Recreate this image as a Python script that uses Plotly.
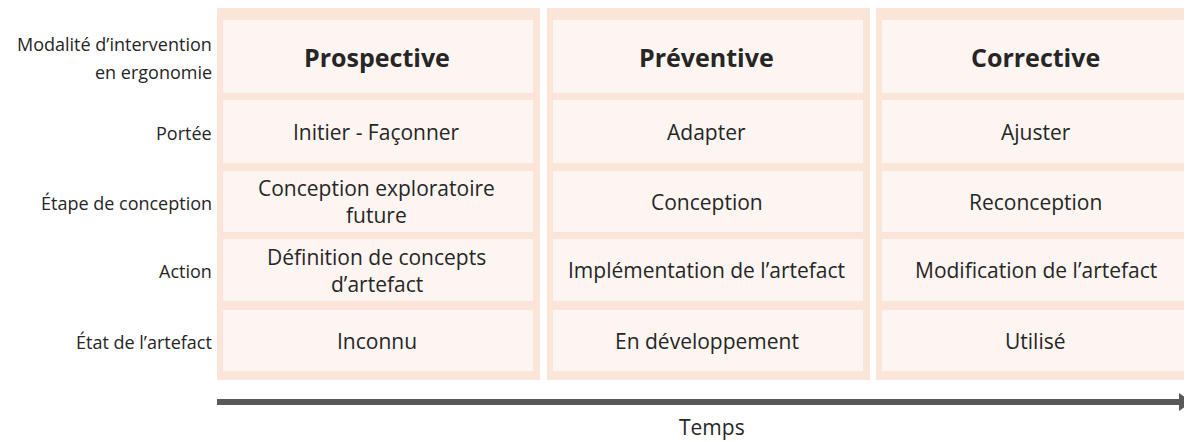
import plotly.graph_objects as go

# ---- data ----
row_labels = [
    "Modalité d’intervention<br>en ergonomie",
    "Portée",
    "Étape de conception",
    "Action",
    "État de l’artefact",
]
column_titles = ["Prospective", "Préventive", "Corrective"]
portee = ["Initier - Façonner", "Adapter", "Ajuster"]
etape = ["Conception exploratoire<br>future", "Conception", "Reconception"]
action = ["Définition de concepts<br>d’artefact", "Implémentation de l’artefact", "Modification de l’artefact"]
etat = ["Inconnu", "En développement", "Utilisé"]
axis_label = "Temps"

# ---- layout geometry (reference pixels) ----
W, H = 1192, 442
OFF = 8  # page body margin compensation
col_left = [217, 547, 876]
col_width = 323
inner_pad_l, inner_pad_r = 6, 7
panel_top, panel_bottom = 7, 380
row_top = [20, 100, 171, 239, 310]
row_bot = [93, 163, 232, 301, 371]
label_right = 214
arrow_y = 402

outer_col = "#FBE4D8"
inner_col = "#FCF5F1"
text_col = "#262626"
FONT = "'Open Sans', Lato, sans-serif"

fig = go.Figure()
shapes = []
annotations = []

rows = [column_titles, portee, etape, action, etat]


def add_text(x, yc, text, size, anchor, spacing):
    lines = text.split("<br>")
    n = len(lines)
    for k, line in enumerate(lines):
        y = yc + (k - (n - 1) / 2) * spacing
        annotations.append(dict(x=x, y=y, xref="x", yref="y", text=line, showarrow=False,
                                font=dict(family=FONT, size=size, color=text_col),
                                xanchor=anchor, yanchor="middle"))


for ci in range(3):
    x0 = col_left[ci]
    x1 = x0 + col_width
    shapes.append(dict(type="rect", xref="x", yref="y", x0=x0, x1=x1,
                       y0=panel_top, y1=panel_bottom,
                       fillcolor=outer_col, line=dict(width=0), layer="below"))
    for ri in range(5):
        shapes.append(dict(type="rect", xref="x", yref="y",
                           x0=x0 + inner_pad_l, x1=x1 - inner_pad_r,
                           y0=row_top[ri], y1=row_bot[ri],
                           fillcolor=inner_col, line=dict(width=0), layer="below"))
        txt = rows[ri][ci]
        if ri == 0:
            txt = "<b>" + txt + "</b>"
            size = 25
        else:
            size = 21
        add_text((x0 + x1) / 2 - 2, (row_top[ri] + row_bot[ri]) / 2, txt, size, "center", 27)

for ri, lab in enumerate(row_labels):
    add_text(label_right, (row_top[ri] + row_bot[ri]) / 2 + 1, lab, 18, "right", 28)

# time arrow
shapes.append(dict(type="line", xref="x", yref="y", x0=col_left[0], x1=1182,
                   y0=arrow_y, y1=arrow_y, line=dict(color="#595959", width=6)))
shapes.append(dict(type="path", xref="x", yref="y",
                   path=f"M 1179 {arrow_y-9} L 1192 {arrow_y} L 1179 {arrow_y+9} Z",
                   fillcolor="#595959", line=dict(width=0)))
annotations.append(dict(x=712, y=427, xref="x", yref="y", text=axis_label,
                        showarrow=False, font=dict(family=FONT, size=21, color=text_col),
                        xanchor="center", yanchor="middle"))

fig.update_layout(
    width=W - OFF, height=H - OFF, margin=dict(l=0, r=0, t=0, b=0),
    paper_bgcolor="white", plot_bgcolor="white",
    xaxis=dict(range=[OFF, W], visible=False, fixedrange=True),
    yaxis=dict(range=[H, OFF], visible=False, fixedrange=True),
    shapes=shapes, annotations=annotations, showlegend=False,
)

fig.write_html("out.html")
